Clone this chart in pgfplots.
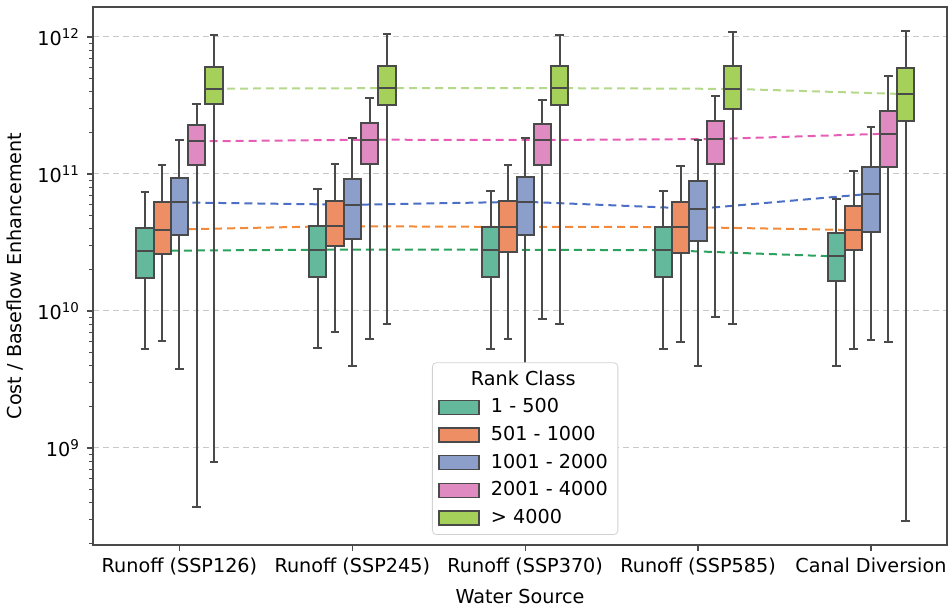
\documentclass[border=0pt]{standalone}
\usepackage{fontspec}
\setmainfont{DejaVu Sans}
\usepackage{pgfplots}
\pgfplotsset{compat=1.18}

\definecolor{cG}{HTML}{64B89C}
\definecolor{cO}{HTML}{EE8E65}
\definecolor{cB}{HTML}{8C9FCA}
\definecolor{cP}{HTML}{DF8AC1}
\definecolor{cL}{HTML}{A5D15A}
\definecolor{lG}{HTML}{2CA25F}
\definecolor{lO}{HTML}{F28A3A}
\definecolor{lB}{HTML}{4B6FC4}
\definecolor{lP}{HTML}{E55DB5}
\definecolor{lL}{HTML}{B5D98A}
\definecolor{edge}{HTML}{4A4A4A}
\definecolor{gridc}{HTML}{C8C8C8}

\pgfplotsset{
  bxl/.style={draw=edge, line width=1pt, solid, forget plot, mark=none, line join=miter},
  ml/.style={line width=1pt, dash pattern=on 4pt off 2.5pt, forget plot, mark=none},
}
% one box: colour, position, lower whisker, Q1, median, Q3, upper whisker
\newcommand\bx[7]{%
  \pgfmathsetmacro\bxL{#2-0.05}\pgfmathsetmacro\bxR{#2+0.05}%
  \pgfmathsetmacro\cpL{#2-0.025}\pgfmathsetmacro\cpR{#2+0.025}%
  \edef\bxtmp{%
    \noexpand\addplot[bxl] coordinates {(#2,#3) (#2,#4)};
    \noexpand\addplot[bxl] coordinates {(#2,#6) (#2,#7)};
    \noexpand\addplot[bxl] coordinates {(\cpL,#3) (\cpR,#3)};
    \noexpand\addplot[bxl] coordinates {(\cpL,#7) (\cpR,#7)};
    \noexpand\addplot[bxl, fill=#1] coordinates {(\bxL,#4) (\bxR,#4) (\bxR,#6) (\bxL,#6)} --cycle;
    \noexpand\addplot[bxl] coordinates {(\bxL,#5) (\bxR,#5)};
  }%
  \bxtmp}

\begin{document}
\begin{tikzpicture}
\begin{axis}[
  name=ax,
  width=427pt, height=269pt, scale only axis,
  font=\fontsize{9.6}{11.5}\selectfont,
  xmin=-0.5, xmax=4.44,
  ymode=log, ymin=1.96e8, ymax=1.656e12,
  xtick={0,1,2,3,4},
  xticklabels={Runoff (SSP126),Runoff (SSP245),Runoff (SSP370),Runoff (SSP585),Canal Diversion},
  ytick={1e9,1e10,1e11,1e12},
  yticklabels={10\textsuperscript{9},10\textsuperscript{10},10\textsuperscript{11},10\textsuperscript{12}},
  minor ytick={2e8,3e8,4e8,5e8,6e8,7e8,8e8,9e8,2e9,3e9,4e9,5e9,6e9,7e9,8e9,9e9,2e10,3e10,4e10,5e10,6e10,7e10,8e10,9e10,2e11,3e11,4e11,5e11,6e11,7e11,8e11,9e11},
  xlabel={Water Source}, ylabel={Cost / Baseflow Enhancement},
  tick align=outside, xtick pos=bottom, ytick pos=left,
  major tick length=3pt, minor tick length=1.8pt,
  every tick/.style={edge, line width=0.6pt},
  axis line style={edge, line width=0.8pt},
  ymajorgrids, grid style={gridc, line width=0.5pt, dash pattern=on 3pt off 2pt},
  legend style={at={(0.506,0.0186)}, anchor=south, draw=gray!35, rounded corners=2pt,
    fill=white, font=\fontsize{9.6}{11.5}\selectfont, row sep=1.2pt, inner xsep=3pt, inner ysep=2pt},
  legend cell align=left,
  legend image code/.code={\draw[#1, sharp corners, line width=0.6pt] (0pt,-3.5pt) rectangle (20pt,3.5pt); \path[draw=none, fill=none] (0pt,0pt) (24pt,0pt);},
]
% median connecting lines (behind boxes)
\addplot[ml, lG] coordinates {(-0.2,2.75e10) (0.8,2.8e10) (1.8,2.8e10) (2.8,2.78e10) (3.8,2.5e10)};
\addplot[ml, lO] coordinates {(-0.1,3.92e10) (0.9,4.16e10) (1.9,4.11e10) (2.9,4.1e10) (3.9,3.9e10)};
\addplot[ml, lB] coordinates {(0,6.2e10) (1,5.96e10) (2,6.27e10) (3,5.57e10) (4,7.17e10)};
\addplot[ml, lP] coordinates {(0.1,1.73e11) (1.1,1.78e11) (2.1,1.77e11) (3.1,1.8e11) (4.1,1.97e11)};
\addplot[ml, lL] coordinates {(0.2,4.2e11) (1.2,4.23e11) (2.2,4.23e11) (3.2,4.18e11) (4.2,3.83e11)};
% Runoff (SSP126)
\bx{cG}{-0.2}{5.3e9}{1.75e10}{2.75e10}{4.06e10}{7.4e10}
\bx{cO}{-0.1}{6.0e9}{2.6e10}{3.92e10}{6.2e10}{1.16e11}
\bx{cB}{0}{3.8e9}{3.6e10}{6.2e10}{9.3e10}{1.78e11}
\bx{cP}{0.1}{3.7e8}{1.17e11}{1.73e11}{2.28e11}{3.26e11}
\bx{cL}{0.2}{7.9e8}{3.22e11}{4.2e11}{6.08e11}{1.03e12}
% Runoff (SSP245)
\bx{cG}{0.8}{5.4e9}{1.76e10}{2.8e10}{4.15e10}{7.8e10}
\bx{cO}{0.9}{7.0e9}{3.0e10}{4.16e10}{6.4e10}{1.18e11}
\bx{cB}{1}{3.95e9}{3.37e10}{5.96e10}{9.2e10}{1.83e11}
\bx{cP}{1.1}{6.2e9}{1.18e11}{1.78e11}{2.35e11}{3.61e11}
\bx{cL}{1.2}{8.1e9}{3.17e11}{4.23e11}{6.16e11}{1.06e12}
% Runoff (SSP370)
\bx{cG}{1.8}{5.3e9}{1.76e10}{2.8e10}{4.08e10}{7.5e10}
\bx{cO}{1.9}{6.2e9}{2.69e10}{4.11e10}{6.3e10}{1.16e11}
\bx{cB}{2}{3.9e9}{3.6e10}{6.27e10}{9.5e10}{1.83e11}
\bx{cP}{2.1}{8.8e9}{1.16e11}{1.77e11}{2.31e11}{3.49e11}
\bx{cL}{2.2}{8.0e9}{3.21e11}{4.23e11}{6.12e11}{1.04e12}
% Runoff (SSP585)
\bx{cG}{2.8}{5.3e9}{1.77e10}{2.78e10}{4.08e10}{7.5e10}
\bx{cO}{2.9}{5.96e9}{2.65e10}{4.1e10}{6.23e10}{1.15e11}
\bx{cB}{3}{4.0e9}{3.22e10}{5.57e10}{8.9e10}{1.78e11}
\bx{cP}{3.1}{9.0e9}{1.18e11}{1.8e11}{2.45e11}{3.73e11}
\bx{cL}{3.2}{8.0e9}{3.0e11}{4.18e11}{6.12e11}{1.08e12}
% Canal Diversion
\bx{cG}{3.8}{3.96e9}{1.65e10}{2.5e10}{3.68e10}{6.55e10}
\bx{cO}{3.9}{5.26e9}{2.78e10}{3.9e10}{5.88e10}{1.05e11}
\bx{cB}{4}{6.1e9}{3.79e10}{7.17e10}{1.12e11}{2.22e11}
\bx{cP}{4.1}{5.9e9}{1.13e11}{1.97e11}{2.89e11}{5.23e11}
\bx{cL}{4.2}{2.92e8}{2.44e11}{3.83e11}{5.92e11}{1.11e12}
% legend
\addlegendimage{empty legend}
\addlegendentry{\hspace{-10pt}Rank Class}
\addlegendimage{fill=cG, draw=edge}
\addlegendentry{1 - 500}
\addlegendimage{fill=cO, draw=edge}
\addlegendentry{501 - 1000}
\addlegendimage{fill=cB, draw=edge}
\addlegendentry{1001 - 2000}
\addlegendimage{fill=cP, draw=edge}
\addlegendentry{2001 - 4000}
\addlegendimage{fill=cL, draw=edge}
\addlegendentry{> 4000}
\end{axis}
\pgfresetboundingbox
\path ([xshift=-46.5pt,yshift=-30pt]ax.south west) rectangle ([xshift=0.5pt,yshift=3.5pt]ax.north east);
\end{tikzpicture}
\end{document}
